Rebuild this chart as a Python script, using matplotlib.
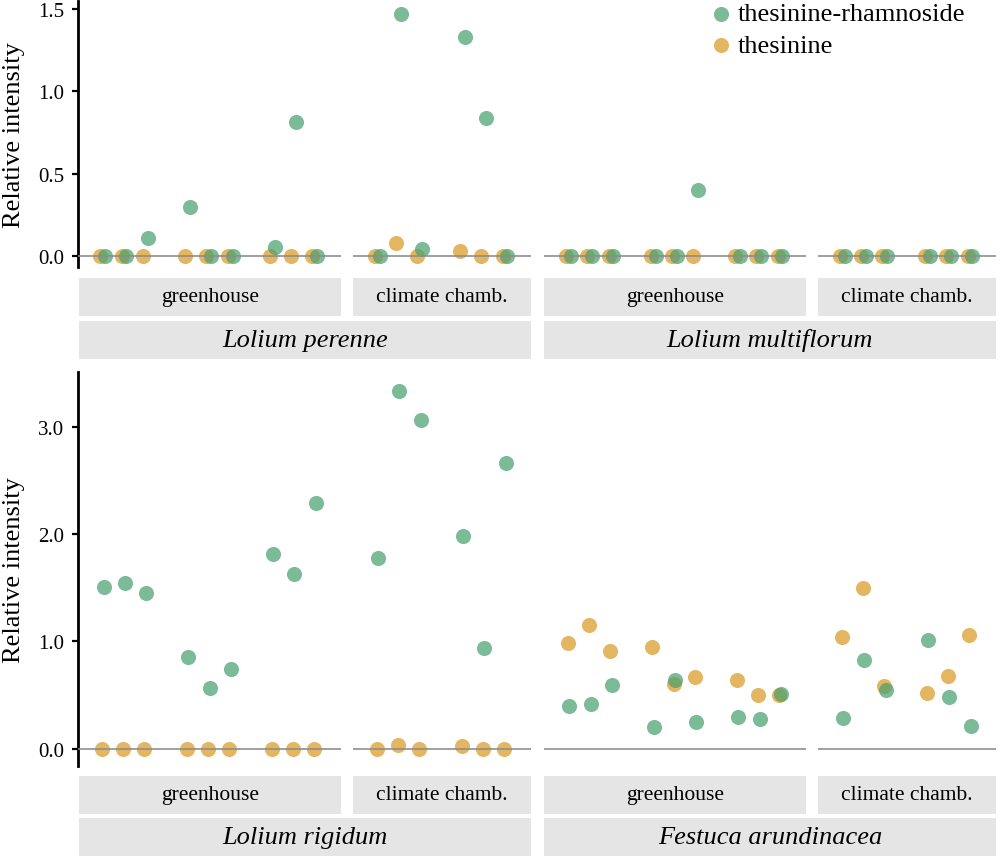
import matplotlib.pyplot as plt

plt.rcParams['font.family'] = ['Liberation Serif', 'DejaVu Serif']

# ---- data ----
species = ['Lolium perenne', 'Lolium multiflorum', 'Lolium rigidum', 'Festuca arundinacea']
sites = ['greenhouse', 'climate chamb.']
gh_slots = [1, 2, 3, 5, 6, 7, 9, 10, 11]
cc_slots = [1, 2, 3, 5, 6, 7]
series = ['thesinine-rhamnoside', 'thesinine']

perenne_gh_rham = [0, 0, 0.11, 0.30, 0, 0, 0.055, 0.815, 0]
perenne_gh_thes = [0, 0, 0, 0, 0, 0, 0, 0, 0]
perenne_cc_rham = [0, 1.47, 0.044, 1.33, 0.838, 0]
perenne_cc_thes = [0, 0.075, 0, 0.028, 0, 0]

multi_gh_rham = [0, 0, 0, 0, 0, 0.40, 0, 0, 0]
multi_gh_thes = [0, 0, 0, 0, 0, 0, 0, 0, 0]
multi_cc_rham = [0, 0, 0, 0, 0, 0]
multi_cc_thes = [0, 0, 0, 0, 0, 0]

rigidum_gh_rham = [1.51, 1.54, 1.45, 0.85, 0.565, 0.74, 1.81, 1.63, 2.29]
rigidum_gh_thes = [0, 0, 0, 0, 0, 0, 0, 0, 0]
rigidum_cc_rham = [1.775, 3.33, 3.065, 1.98, 0.94, 2.66]
rigidum_cc_thes = [0, 0.037, 0, 0.028, 0, 0]

festuca_gh_rham = [0.394, 0.419, 0.593, 0.205, 0.642, 0.245, 0.292, 0.279, 0.509]
festuca_gh_thes = [0.984, 1.148, 0.906, 0.946, 0.602, 0.664, 0.639, 0.496, 0.503]
festuca_cc_rham = [0.285, 0.828, 0.543, 1.008, 0.478, 0.214]
festuca_cc_thes = [1.036, 1.496, 0.586, 0.518, 0.679, 1.055]

rham = [[perenne_gh_rham, perenne_cc_rham], [multi_gh_rham, multi_cc_rham],
        [rigidum_gh_rham, rigidum_cc_rham], [festuca_gh_rham, festuca_cc_rham]]
thes = [[perenne_gh_thes, perenne_cc_thes], [multi_gh_thes, multi_cc_thes],
        [rigidum_gh_thes, rigidum_cc_thes], [festuca_gh_thes, festuca_cc_thes]]

# ---- styling / layout (pixels) ----
green = '#459e6c'
orange = '#da971f'
strip_col = '#e5e5e5'
W, H = 1000, 862

col_x = [[(78, 341), (353, 531)], [(544, 806), (818, 996)]]
row_y = [(2, 268), (373, 767)]
strip1_y = [(279, 317), (777, 815)]
strip2_y = [(322, 360), (819, 857)]
ylims = [(-0.068, 1.55), (-0.163, 3.51)]
yticks = [[0.0, 0.5, 1.0, 1.5], [0.0, 1.0, 2.0, 3.0]]
dodge = [0.115, 0.035]
xlims = [(-0.17, 12.23), (-0.14, 8.22)]


def box(x0, y0, x1, y1):
    return [x0 / W, 1 - y1 / H, (x1 - x0) / W, (y1 - y0) / H]


fig = plt.figure(figsize=(10, 8.62), dpi=100)

handles = None
for k, sp in enumerate(species):
    r, c = divmod(k, 2)
    for s, site in enumerate(sites):
        x0, x1 = col_x[c][s]
        y0, y1 = row_y[r]
        ax = fig.add_axes(box(x0, y0, x1, y1))
        slots = gh_slots if s == 0 else cc_slots
        xo = [v - dodge[r] for v in slots]
        xg = [v + dodge[r] for v in slots]
        h2 = ax.scatter(xo, thes[k][s], s=118, color=orange, alpha=0.7,
                        linewidths=0, zorder=2)
        h1 = ax.scatter(xg, rham[k][s], s=118, color=green, alpha=0.7,
                        linewidths=0, zorder=2)
        handles = [h1, h2]
        ax.axhline(0, color='#8c8c8c', lw=1.3, alpha=0.9, zorder=3)
        ax.set_xlim(*xlims[s])
        ax.set_ylim(*ylims[r])
        ax.set_xticks([])
        for side in ['top', 'right', 'bottom']:
            ax.spines[side].set_visible(False)
        if c == 0 and s == 0:
            ax.spines['left'].set_linewidth(2)
            ax.set_yticks(yticks[r])
            ax.set_yticklabels([f'{t:.1f}' for t in yticks[r]])
            ax.tick_params(axis='y', length=4, width=1.6, pad=6, labelsize=15)
        else:
            ax.spines['left'].set_visible(False)
            ax.set_yticks([])
        ax.patch.set_alpha(0)

        # site strip
        sy0, sy1 = strip1_y[r]
        sx0 = x0 + 1 if (c == 0 and s == 0) else x0
        st = fig.add_axes(box(sx0, sy0, x1, sy1))
        st.set_facecolor(strip_col)
        st.set_xticks([])
        st.set_yticks([])
        for sp_ in st.spines.values():
            sp_.set_visible(False)
        st.text(0.5, 0.5, site, ha='center', va='center', fontsize=15.5,
                transform=st.transAxes)

    # species strip
    sx0 = col_x[c][0][0] + (1 if c == 0 else 0)
    sx1 = col_x[c][1][1]
    sy0, sy1 = strip2_y[r]
    st = fig.add_axes(box(sx0, sy0, sx1, sy1))
    st.set_facecolor(strip_col)
    st.set_xticks([])
    st.set_yticks([])
    for sp_ in st.spines.values():
        sp_.set_visible(False)
    st.text(0.5, 0.5, sp, ha='center', va='center', fontsize=19,
            style='italic', transform=st.transAxes)

# y labels
for r in range(2):
    y0, y1 = row_y[r]
    fig.text(14 / W, 1 - (y0 + y1) / 2 / H, 'Relative intensity', rotation=90,
             ha='center', va='center', fontsize=19)

fig.legend(handles, series, loc='upper left', bbox_to_anchor=(713 / W, 1 - 3 / H),
           frameon=False, fontsize=19, handlelength=0.6, handletextpad=0.34,
           labelspacing=0.32, borderpad=0, borderaxespad=0, markerscale=1.0)

fig.savefig('out.png', dpi=100)
